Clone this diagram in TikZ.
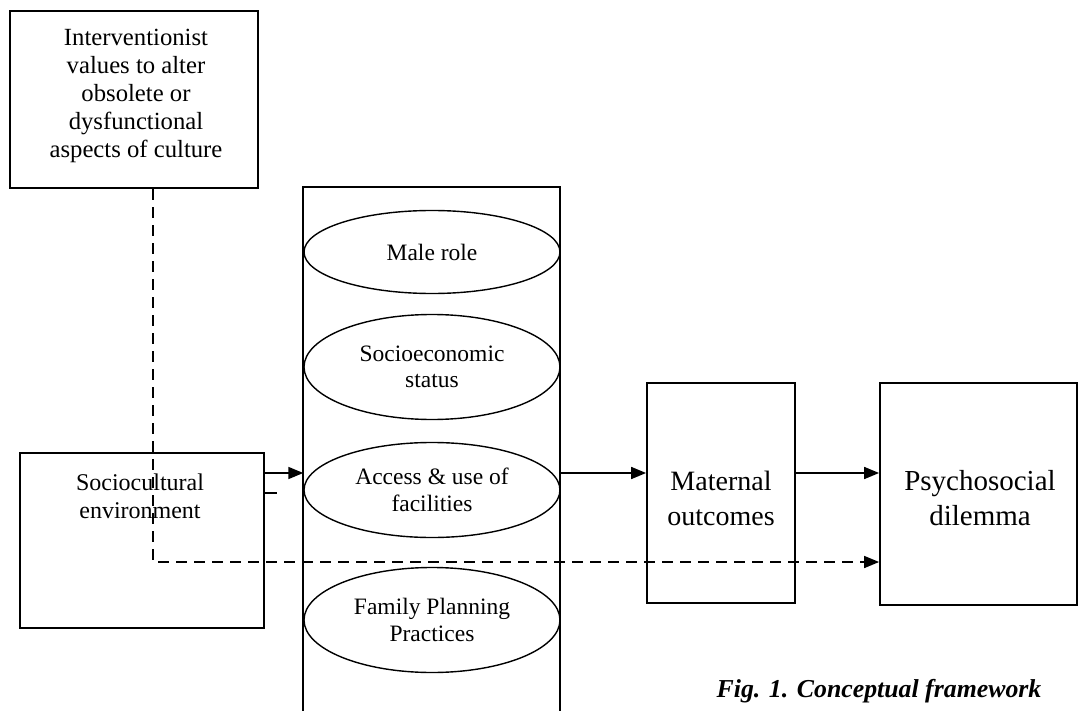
\documentclass[tikz,border=0pt]{standalone}
\usepackage{fontspec}
\setmainfont{Liberation Serif}
\usetikzlibrary{arrows.meta,shapes.geometric}
\begin{document}
\begin{tikzpicture}[x=1pt,y=-1pt,
  box/.style={draw,line width=1.8pt,rectangle,inner sep=0pt},
  oval/.style={draw,line width=1.4pt,ellipse,inner sep=0pt,minimum width=256pt,align=center,font=\fontsize{23.5}{26.5}\selectfont},
  arr/.style={line width=1.7pt,-{Triangle[length=15pt,width=12pt]}},
  dasharr/.style={line width=1.6pt,dash pattern=on 11pt off 7pt,-{Triangle[length=15pt,width=12pt]}},
  lbl/.style={align=center,inner sep=0pt}]
\useasboundingbox (0,0) rectangle (1078,711);
% top box
\node[box,line width=2.8pt,minimum width=248pt,minimum height=177pt] (iv) at (134,99.5) {};
\node[lbl,font=\fontsize{24.7}{28}\selectfont] (ivt) at (136,96) {Interventionist\\values to alter\\obsolete or\\dysfunctional\\aspects of culture};
% sociocultural box
\node[box,line width=2.2pt,minimum width=244pt,minimum height=175pt] (soc) at (142,540.5) {};
\node[lbl,font=\fontsize{24}{28}\selectfont] (soct) at (140,496) {Sociocultural\\environment};
% middle column
\node[minimum width=256.5pt,minimum height=524pt,inner sep=0pt] (mid) at (431.75,449) {};
\draw[line width=1.8pt] (mid.south west) -- (mid.north west) -- (mid.north east) -- (mid.south east);
\node[oval,minimum height=83pt] (e1) at (432,252) {Male role};
\node[oval,minimum height=105pt] (e2) at (432,367) {Socioeconomic\\status};
\node[oval,minimum height=95pt] (e3) at (432,490) {Access \& use of\\facilities};
\node[oval,minimum height=105pt] (e4) at (432,620) {Family Planning\\Practices};
% right boxes
\node[box,minimum width=148pt,minimum height=220pt] (mat) at (721,493) {};
\node[lbl,font=\fontsize{28}{35}\selectfont] (matt) at (721,498) {Maternal\\outcomes};
\node[box,minimum width=197pt,minimum height=222pt] (psy) at (978.5,494) {};
\node[lbl,font=\fontsize{29}{35}\selectfont] (psyt) at (980,498) {Psychosocial\\dilemma};
% connectors
\coordinate (a1) at (0,473);
\coordinate (s1) at (0,493);
\coordinate (bend) at (153,562);
\draw[arr] (soc.east |- a1) -- (mid.west |- a1);
\draw[line width=1.2pt] (soc.east |- s1) -- ++(12,0);
\draw[arr] (mid.east |- a1) -- (mat.west |- a1);
\draw[arr] (mat.east |- a1) -- (psy.west |- a1);
\draw[dasharr] (iv.south -| bend) -- (bend) -- (psy.west |- bend);
% caption
\node[anchor=base,inner sep=0pt,font=\fontsize{25.8}{30}\selectfont\bfseries\itshape] (cap) at (879,697) {Fig. 1. Conceptual framework};
\end{tikzpicture}
\end{document}
